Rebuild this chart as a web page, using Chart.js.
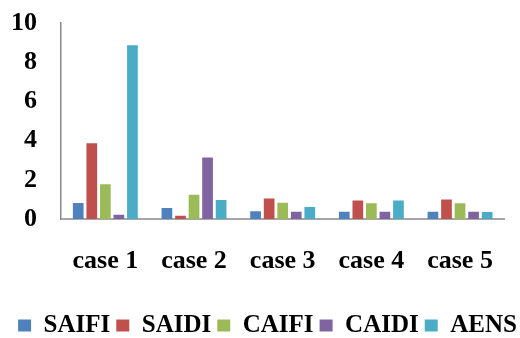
<!DOCTYPE html>
<html>
<head>
<meta charset="utf-8">
<script src="https://cdn.jsdelivr.net/npm/chart.js@4/dist/chart.umd.min.js"></script>
<style>
html,body{margin:0;padding:0;background:#fff;}
#wrap{width:520px;height:338px;position:relative;}
</style>
</head>
<body>
<div id="wrap"><canvas id="c" width="520" height="338"></canvas></div>
<script>
const categories = ['case 1', 'case 2', 'case 3', 'case 4', 'case 5'];
const seriesNames = ['SAIFI', 'SAIDI', 'CAIFI', 'CAIDI', 'AENS'];
const SAIFI = [0.82, 0.56, 0.39, 0.37, 0.37];
const SAIDI = [3.87, 0.17, 1.04, 0.94, 0.99];
const CAIFI = [1.77, 1.24, 0.83, 0.80, 0.80];
const CAIDI = [0.22, 3.14, 0.37, 0.37, 0.37];
const AENS  = [8.87, 0.97, 0.61, 0.94, 0.36];
const yTicks = [0, 2, 4, 6, 8, 10];
const colors = ['#4F81BD', '#C0504D', '#9BBB59', '#8064A2', '#4BACC6'];
const values = [SAIFI, SAIDI, CAIFI, CAIDI, AENS];

const font = 'Liberation Serif, Times New Roman, serif';

const shiftLegend = {
  id: 'shiftLegend',
  afterLayout(chart) {
    if (chart.legend) {
      chart.legend.top += 10; chart.legend.bottom += 10;
      chart.legend.left += 8; chart.legend.right += 8;
    }
  }
};

new Chart(document.getElementById('c'), {
  type: 'bar',
  data: {
    labels: categories,
    datasets: seriesNames.map((n, i) => ({
      label: n,
      data: values[i],
      backgroundColor: colors[i],
      borderWidth: 0,
      categoryPercentage: 0.764,
      barPercentage: 0.79
    }))
  },
  options: {
    responsive: false,
    animation: false,
    layout: { padding: { top: 23, right: 1, left: 0, bottom: 0 } },
    plugins: {
      legend: {
        position: 'bottom',
        labels: {
          font: { family: font, size: 25, weight: 'bold' },
          color: '#000',
          boxWidth: 13,
          boxHeight: 12,
          padding: 6
        }
      },
      tooltip: { enabled: false }
    },
    scales: {
      x: {
        grid: { display: false, drawTicks: false },
        border: { display: true, color: '#a6a6a6', width: 2 },
        ticks: {
          font: { family: font, size: 26, weight: 'bold' },
          color: '#000',
          padding: 27,
          maxRotation: 0
        },
        afterFit(scale) { scale.height = 78; }
      },
      y: {
        min: 0,
        max: 10,
        afterBuildTicks(scale) { scale.ticks = yTicks.map(v => ({ value: v })); },
        grid: { display: false, drawTicks: false },
        border: { display: true, color: '#888888', width: 1.5 },
        ticks: {
          font: { family: font, size: 26, weight: 'bold' },
          color: '#000',
          padding: 24
        },
        afterFit(scale) { scale.width = 61; scale.paddingTop = 12; scale.paddingBottom = 12; }
      }
    }
  },
  plugins: [shiftLegend]
});
</script>
</body>
</html>
